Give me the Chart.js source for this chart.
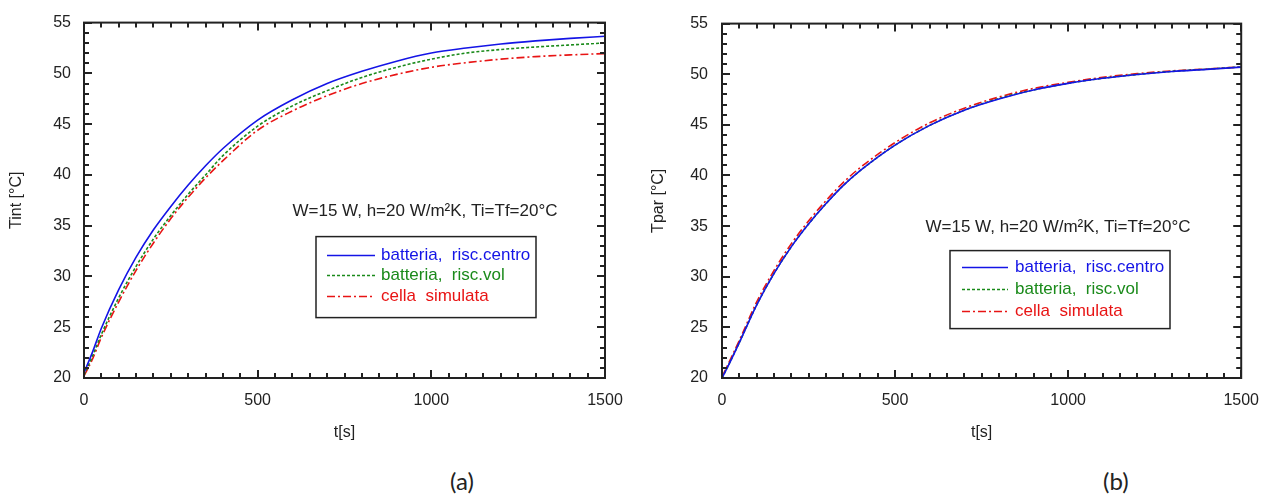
<!DOCTYPE html>
<html>
<head>
<meta charset="utf-8">
<script src="https://cdn.jsdelivr.net/npm/chart.js@4.4.1/dist/chart.umd.min.js"></script>
<style>
  body { margin: 0; background: #fff; width: 1272px; height: 500px; position: relative; overflow: hidden; }
  .box { position: absolute; top: 0; width: 636px; height: 460px; }
  .sub { position: absolute; top: 466px; font-family: Lato, "Open Sans", sans-serif; font-size: 24px; color: #222; }
</style>
</head>
<body>
<div class="box" style="left:0"><canvas id="chartA"></canvas></div>
<div class="box" style="left:636px"><canvas id="chartB"></canvas></div>
<div class="sub" style="left:450px">(a)</div>
<div class="sub" style="left:1103px">(b)</div>
<script>
// tempo [s]
const tempi = [0, 25, 50, 100, 150, 200, 250, 300, 350, 400, 500, 600, 700, 800, 900, 1000, 1100, 1200, 1300, 1400, 1500];

// (a) temperatura interna
const tintCentro = [20.5, 22.6, 24.9, 28.7, 31.9, 34.6, 36.9, 39.0, 40.9, 42.6, 45.4, 47.4, 49.0, 50.2, 51.2, 52.0, 52.5, 52.9, 53.2, 53.45, 53.65];
const tintVol = [20.3, 22.2, 24.3, 27.9, 31.0, 33.7, 36.0, 38.1, 40.0, 41.9, 44.8, 46.8, 48.3, 49.6, 50.6, 51.4, 52.0, 52.35, 52.6, 52.8, 53.0];
const tintCella = [20.2, 21.9, 24.0, 27.5, 30.6, 33.3, 35.7, 37.8, 39.7, 41.4, 44.4, 46.3, 47.8, 49.0, 49.9, 50.6, 51.05, 51.4, 51.65, 51.82, 51.95];

// (b) temperatura di parete
const tparCentro = [20.0, 21.7, 23.5, 27.2, 30.3, 32.95, 35.2, 37.2, 39.0, 40.5, 43.0, 44.95, 46.45, 47.55, 48.45, 49.1, 49.6, 49.98, 50.27, 50.48, 50.7];
const tparVol = [20.0, 21.7, 23.5, 27.2, 30.3, 32.95, 35.2, 37.2, 39.0, 40.5, 43.0, 44.95, 46.45, 47.6, 48.45, 49.1, 49.6, 49.98, 50.28, 50.5, 50.72];
const tparCella = [20.1, 21.9, 23.7, 27.5, 30.6, 33.25, 35.5, 37.5, 39.3, 40.8, 43.25, 45.2, 46.65, 47.75, 48.6, 49.2, 49.7, 50.06, 50.33, 50.52, 50.72];

const etichette = ["batteria,  risc.centro", "batteria,  risc.vol", "cella  simulata"];
const colori = ["#1414e6", "#1a8a1a", "#e81414"];
const tratti = [[], [3, 2], [8, 3, 2, 3]];
const nota = "W=15 W, h=20 W/m\u00b2K, Ti=Tf=20\u00b0C";

const FONT = "'Liberation Sans', Arial, sans-serif";
const INK = "#222";

// cornice + tacche interne su tutti i lati
const cornice = {
  id: "cornice",
  afterDatasetsDraw(chart) {
    const ctx = chart.ctx;
    const a = chart.chartArea;
    const sx = chart.scales.x, sy = chart.scales.y;
    ctx.save();
    ctx.strokeStyle = INK;
    ctx.lineWidth = 2;
    ctx.strokeRect(a.left, a.top, a.right - a.left, a.bottom - a.top);
    ctx.beginPath();
    for (let v = 0; v <= 1500; v += 50) {
      let px = Math.round(sx.getPixelForValue(v));
      let l = v % 500 === 0 ? 8 : 5;
      ctx.moveTo(px, a.bottom); ctx.lineTo(px, a.bottom - l);
      ctx.moveTo(px, a.top); ctx.lineTo(px, a.top + l);
    }
    for (let v = 20; v <= 55; v += 1) {
      let py = Math.round(sy.getPixelForValue(v));
      let l = v % 5 === 0 ? 8 : 5;
      ctx.moveTo(a.left, py); ctx.lineTo(a.left + l, py);
      ctx.moveTo(a.right, py); ctx.lineTo(a.right - l, py);
    }
    ctx.stroke();
    ctx.restore();
  }
};

// nota e legenda in riquadro
const legenda = {
  id: "legenda",
  afterDatasetsDraw(chart, args, opt) {
    const ctx = chart.ctx;
    const a = chart.chartArea;
    ctx.save();
    ctx.font = "17px " + FONT;
    ctx.fillStyle = INK;
    ctx.textAlign = "center";
    ctx.textBaseline = "middle";
    ctx.fillText(nota, a.left + opt.nota[0], a.top + opt.nota[1]);

    ctx.strokeStyle = INK;
    ctx.lineWidth = 1.5;
    ctx.strokeRect(a.left + opt.box[0], a.top + opt.box[1], opt.box[2], opt.box[3]);

    ctx.textAlign = "left";
    chart.data.datasets.forEach((ds, i) => {
      let y = a.top + opt.righe[i];
      ctx.beginPath();
      ctx.setLineDash(ds.borderDash);
      ctx.strokeStyle = ds.borderColor;
      ctx.lineWidth = 1.5;
      ctx.moveTo(a.left + opt.linea[0], y);
      ctx.lineTo(a.left + opt.linea[1], y);
      ctx.stroke();
      ctx.setLineDash([]);
      ctx.fillStyle = ds.borderColor;
      ctx.fillText(ds.label, a.left + opt.testo, y);
    });
    ctx.restore();
  }
};

function grafico(id, serie, titoloY, yWidth, padRight, yPadTitle, yPadTicks, leg) {
  return new Chart(document.getElementById(id), {
    type: "line",
    data: {
      datasets: serie.map((s, i) => ({
        label: etichette[i],
        data: tempi.map((t, k) => ({ x: t, y: s[k] })),
        borderColor: colori[i],
        borderWidth: 1.6,
        borderDash: tratti[i],
        pointRadius: 0,
        cubicInterpolationMode: "monotone",
        fill: false
      }))
    },
    options: {
      responsive: true,
      maintainAspectRatio: false,
      animation: false,
      layout: { padding: { top: 18, right: padRight, left: 0, bottom: 0 } },
      plugins: { legend: { display: false }, tooltip: { enabled: false }, legenda: leg },
      scales: {
        x: {
          type: "linear", min: 0, max: 1500,
          grid: { display: false, drawTicks: false },
          border: { display: false },
          ticks: { stepSize: 500, maxRotation: 0, autoSkip: false, padding: 13, color: INK,
                   font: { family: FONT, size: 16 }, callback: v => String(v) },
          title: { display: true, text: "t[s]", color: INK, font: { family: FONT, size: 16 }, padding: { top: 0, bottom: 18 } },
          afterFit(scale) { scale.height = 82; }
        },
        y: {
          type: "linear", min: 20, max: 55,
          grid: { display: false, drawTicks: false },
          border: { display: false },
          ticks: { stepSize: 5, autoSkip: false, padding: yPadTicks, color: INK,
                   font: { family: FONT, size: 16 }, callback: v => String(v) },
          title: { display: true, text: titoloY, color: INK, font: { family: FONT, size: 16 }, padding: { top: yPadTitle, bottom: 0 } },
          afterFit(scale) { scale.width = yWidth; }
        }
      }
    },
    plugins: [cornice, legenda]
  });
}

grafico("chartA", [tintCentro, tintVol, tintCella], "Tint [\u00b0C]", 84, 31, 7, 13, {
  nota: [341, 189], box: [232, 214, 220, 81], righe: [233, 253, 274], linea: [243, 291], testo: 297
});
grafico("chartB", [tparCentro, tparVol, tparCella], "Tpar [\u00b0C]", 86, 29, 13, 14, {
  nota: [336, 204], box: [228, 227, 220, 78], righe: [244, 266, 288], linea: [240, 286], testo: 293
});
</script>
</body>
</html>
